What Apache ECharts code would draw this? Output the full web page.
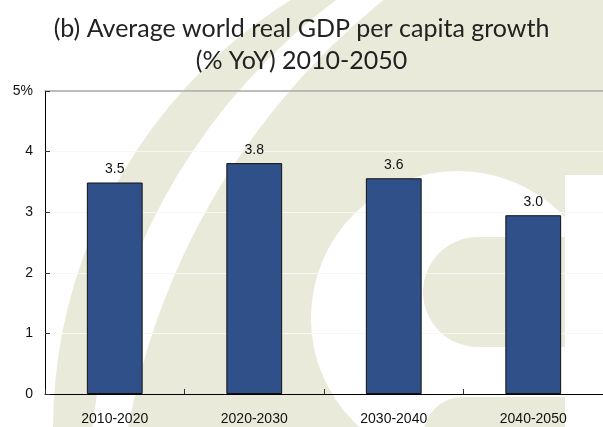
<!DOCTYPE html>
<html>
<head>
<meta charset="utf-8">
<script src="https://cdn.jsdelivr.net/npm/echarts@6/dist/echarts.min.js"></script>
<style>html,body{margin:0;padding:0;background:#fff}#c{width:603px;height:427px}</style>
</head>
<body>
<div id="c"></div>
<script>
var categories = ['2010-2020', '2020-2030', '2030-2040', '2040-2050'];
var growth = [3.49, 3.81, 3.56, 2.95];
var yTicks = ['0', '1', '2', '3', '4', '5%'];
var titleLines = ['(b) Average world real GDP per capita growth', '(% YoY) 2010-2050'];

var PALE = '#EAEADB';
var LBL = '"Liberation Sans", Arial, sans-serif';
var TFONT = '25px Lato, "Open Sans", sans-serif';

var chart = echarts.init(document.getElementById('c'), null, {renderer: 'canvas'});
chart.setOption({
  animation: false,
  backgroundColor: '#ffffff',
  graphic: [
    {type: 'circle', z: -100, silent: true, shape: {cx: 559, cy: 429, r: 506}, style: {fill: PALE}},
    {type: 'circle', z: -99, silent: true, shape: {cx: 704, cy: 493, r: 615}, style: {fill: '#ffffff'}},
    {type: 'circle', z: -98, silent: true, shape: {cx: 834, cy: 559, r: 718}, style: {fill: PALE}},
    {type: 'circle', z: -97, silent: true, shape: {cx: 458, cy: 318, r: 147}, style: {fill: '#ffffff'}},
    {type: 'rect', z: -96, silent: true, shape: {x: 565, y: 175, width: 40, height: 260}, style: {fill: '#ffffff'}},
    {type: 'circle', z: -95, silent: true, shape: {cx: 478, cy: 292, r: 55}, style: {fill: PALE}},
    {type: 'rect', z: -95, silent: true, shape: {x: 478, y: 237, width: 87, height: 110}, style: {fill: PALE}},
    {type: 'rect', z: -95, silent: true, shape: {x: 423, y: 397, width: 142, height: 40, r: [40, 0, 0, 0]}, style: {fill: PALE}},
    {type: 'text', z: 10, silent: true, x: 301.5, y: 29,
      style: {text: titleLines[0], fill: '#222', font: TFONT, align: 'center', verticalAlign: 'middle'}},
    {type: 'text', z: 10, silent: true, x: 301.5, y: 61,
      style: {text: titleLines[1], fill: '#222', font: TFONT, align: 'center', verticalAlign: 'middle'}}
  ],
  grid: {left: 45, right: 0, top: 91, bottom: 33, containLabel: false},
  xAxis: [{
    type: 'category',
    data: categories,
    axisLine: {show: true, lineStyle: {color: '#000', width: 1}},
    axisTick: {show: true, inside: true, length: 5, lineStyle: {color: '#333'}},
    axisLabel: {color: '#111', fontFamily: LBL, fontSize: 14, margin: 18},
    splitLine: {show: false}
  }, {
    type: 'category',
    position: 'top',
    data: categories,
    axisLine: {show: true, lineStyle: {color: '#A8A8A8', width: 1.5}},
    axisTick: {show: false},
    axisLabel: {show: false}
  }],
  yAxis: {
    type: 'value',
    min: 0, max: 5, interval: 1,
    axisLine: {show: true, lineStyle: {color: '#000', width: 1}},
    axisTick: {show: true, inside: true, length: 5, lineStyle: {color: '#333'}},
    axisLabel: {color: '#111', fontFamily: LBL, fontSize: 14, margin: 12,
      formatter: function (v) { return yTicks[Math.round(v)]; }},
    splitLine: {show: true, lineStyle: {color: '#F8F8F3', width: 1}}
  },
  series: [{
    type: 'bar',
    data: growth,
    barWidth: '40%',
    itemStyle: {color: '#30508A', borderColor: '#111', borderWidth: 1},
    label: {show: true, position: 'top', distance: 6, color: '#111', fontFamily: LBL, fontSize: 14,
      formatter: function (p) { return p.value.toFixed(1); }}
  }]
});
</script>
</body>
</html>
